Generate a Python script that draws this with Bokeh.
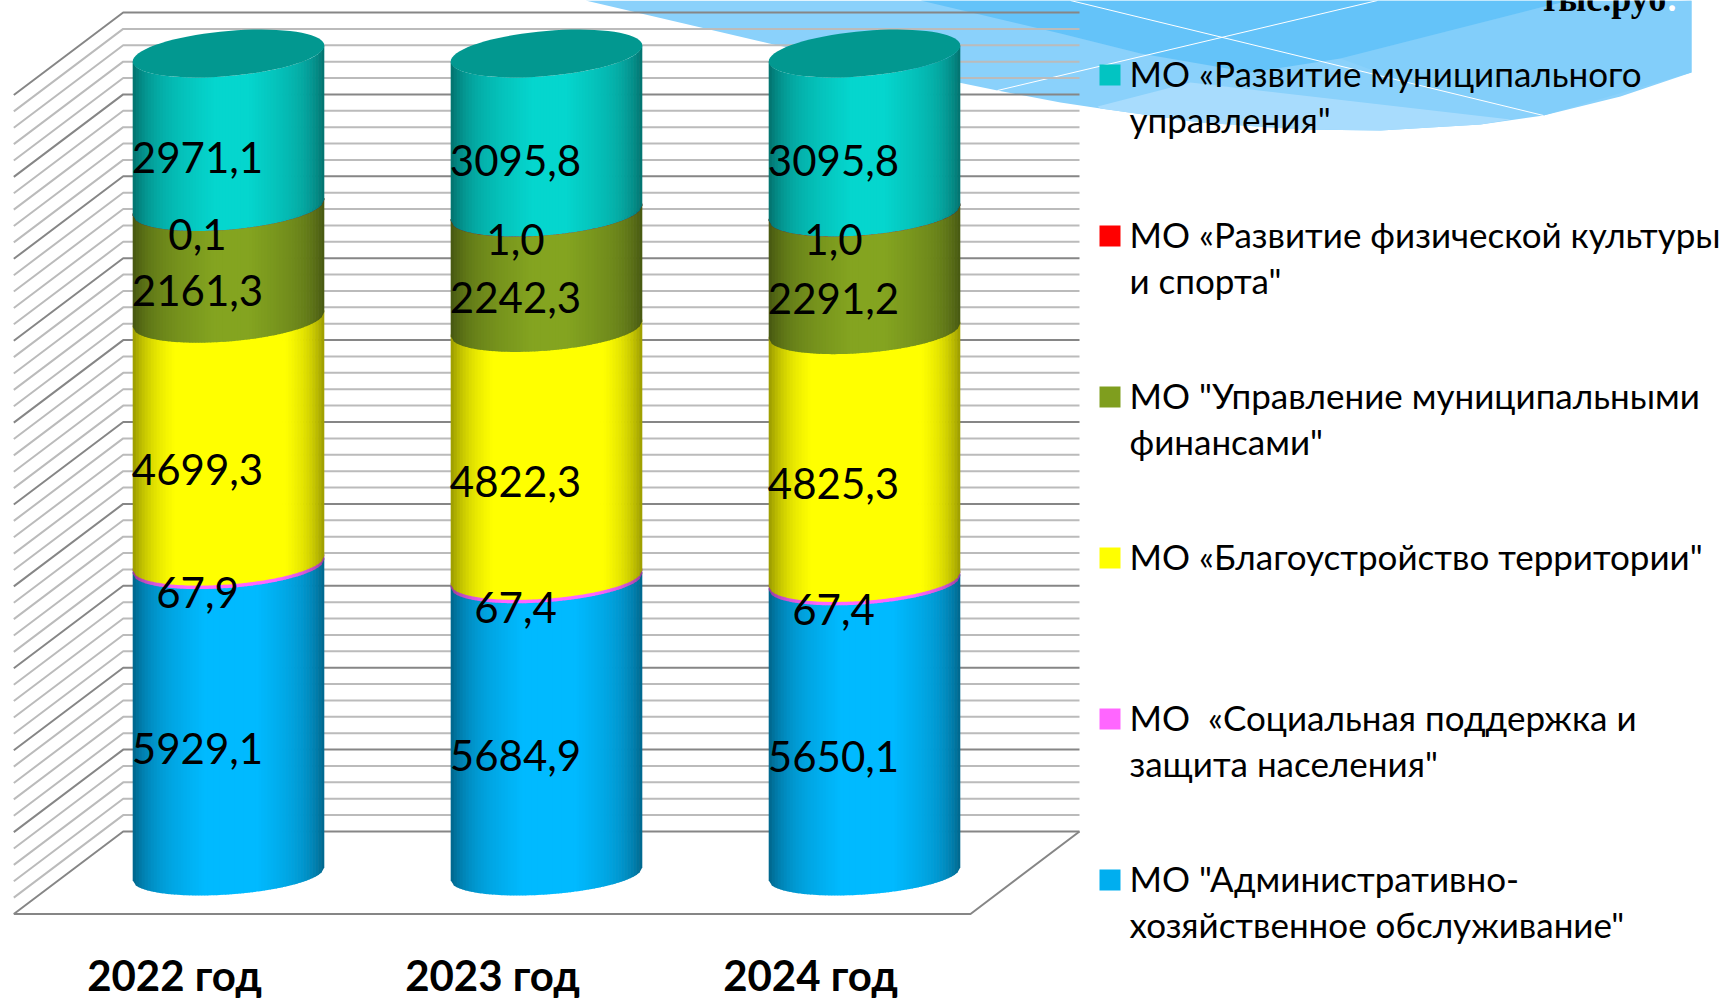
import math
from bokeh.core.properties import value
from bokeh.embed import file_html
from bokeh.models import Range1d
from bokeh.plotting import figure
from bokeh.resources import INLINE

# ---- data -------------------------------------------------------------
categories = ["2022 год", "2023 год", "2024 год"]
admin = [5929.1, 5684.9, 5650.1]
social = [67.9, 67.4, 67.4]
improve = [4699.3, 4822.3, 4825.3]
finance = [2161.3, 2242.3, 2291.2]
sport = [0.1, 1.0, 1.0]
municipal = [2971.1, 3095.8, 3095.8]
series = [admin, social, improve, finance, sport, municipal]
labels = [
    ["5929,1", "5684,9", "5650,1"],
    ["67,9", "67,4", "67,4"],
    ["4699,3", "4822,3", "4825,3"],
    ["2161,3", "2242,3", "2291,2"],
    ["0,1", "1,0", "1,0"],
    ["2971,1", "3095,8", "3095,8"],
]
legend_names = [
    ["МО «Развитие муниципального", "управления\""],
    ["МО «Развитие физической культуры", "и спорта\""],
    ["МО \"Управление муниципальными", "финансами\""],
    ["МО «Благоустройство территории\""],
    ["МО\u00a0\u00a0«Социальная поддержка и", "защита населения\""],
    ["МО \"Административно-", "хозяйственное обслуживание\""],
]
gridline_percents = list(range(0, 101, 2))

# ---- styles -----------------------------------------------------------
side_colors = [(0, 186, 255), (255, 102, 255), (255, 255, 0), (132, 164, 32), (255, 0, 0), (5, 214, 206)]
side_gain = [1.08, 1.15, 1.2, 1.05, 1.0, 1.05]
label_dy = [21, 21, 21, 19, 19, 19]
legend_colors = ["#02C4C2", "#FF0000", "#7F9E1E", "#FFFF00", "#FF66FF", "#00AEEF"]
cap_color = "#029890"
FONT = "Lato"

W, H = 1726, 999
PX_PER_PCT = 8.19
CX0, STEP = 228.0, 318.0
A = 95.8 / STEP
BASE = 880.0

p = figure(width=W, height=H, output_backend="svg", toolbar_location=None,
           x_axis_location=None, y_axis_location=None, min_border=0,
           x_range=Range1d((0 - CX0) / STEP, (W - CX0) / STEP),
           y_range=Range1d((BASE - H) / PX_PER_PCT, BASE / PX_PER_PCT))
p.styles = {"position": "absolute", "left": "0px", "top": "0px"}
p.grid.visible = False
p.outline_line_color = None
p.background_fill_color = "#FFFFFF"
p.border_fill_color = "#FFFFFF"
p.extra_x_ranges["px"] = Range1d(0, W)
p.extra_y_ranges["px"] = Range1d(H, 0)
PX = dict(x_range_name="px", y_range_name="px")

# ---- decorative band ---------------------------------------------------
band_layers = [
    ("#8AD1FB", [585, 773, 997, 1060, 1100, 1200, 1300, 1380, 1480, 1543, 1620, 1691, 1691],
                [0, 44, 90, 102, 108, 122, 129, 130, 124, 115, 96, 72, 0]),
    ("#A8DCFD", [1097, 1190, 1510, 1480, 1380, 1300, 1200, 1100],
                [106, 82, 119, 124, 130, 129, 122, 108]),
    ("#82CEFA", [1340, 1540, 1691, 1691, 1543, 1400],
                [58, 7, 0, 72, 115, 80]),
    ("#64C3F9", [920, 1060, 1140, 1250, 1340, 1540, 1570],
                [0, 33, 53, 72, 58, 7, 0]),
]
for col, bx, by in band_layers:
    p.patch(bx, by, fill_color=col, line_color=None, **PX)
p.line([1070, 1543], [0, 115], line_color="#FFFFFF", line_width=1, **PX)
p.line([1377, 997], [0, 90], line_color="#FFFFFF", line_width=1, **PX)

# ---- 3D walls and floor ------------------------------------------------
BACK0, FRONT0 = 831.0, 913.5
LEFT_F, LEFT_B, RIGHT_F, RIGHT_B = 13.3, 122.7, 970.0, 1079.0
for pct in gridline_percents:
    y_back = BACK0 - PX_PER_PCT * pct
    y_front = FRONT0 - PX_PER_PCT * pct
    major = pct % 10 == 0
    p.line([LEFT_F, LEFT_B, RIGHT_B], [y_front, y_back, y_back],
           line_color="#868686" if major else "#BBBBBB", line_width=2, **PX)
p.line([LEFT_F, RIGHT_F, RIGHT_B], [FRONT0, FRONT0, BACK0], line_color="#868686", line_width=2, **PX)

# ---- cylinders --------------------------------------------------------
def shade(col, u, gain):
    d = (0.52 - u) / 0.52 if u < 0.52 else (u - 0.52) / 0.48
    f = min(1.0, gain * (1 - 0.5 * (0.55 * d + 0.45 * d ** 6)))
    return "#%02X%02X%02X" % tuple(int(round(c * f)) for c in col)

def kb(pct):
    return (6.5 + 1.5 * pct / 100) / PX_PER_PCT, (20.5 + 2.1 * pct / 100) / PX_PER_PCT

def yy(pct, n, k, b):
    # y on the visible (front) half of a tilted ellipse, in percent units
    return pct + k * (1 + n) - b * math.sqrt(max(0.0, 1 - n * n))

N = 64
tx, ty, tt, tdy = [], [], [], []
cat_x = []
for c in range(3):
    cx = float(c)
    cat_x.append(cx)
    total = sum(s[c] for s in series)
    cum = 0.0
    for si, s in enumerate(series):
        lo = 100 * cum / total
        cum += s[c]
        hi = 100 * cum / total
        hi_draw = hi if si == 5 else min(100, hi + 0.25)
        xs, ys, cols = [], [], []
        k_lo, b_lo = kb(lo)
        k_hi, b_hi = kb(hi_draw)
        for j in range(N):
            u0, u1 = j / N, (j + 1) / N
            u1b = min(1.0, u1 + 0.2 / N)
            n0, n1 = 2 * u0 - 1, 2 * u1b - 1
            x0, x1 = cx + A * n0, cx + A * n1
            xs.append([x0, x1, x1, x0])
            ys.append([yy(lo, n0, k_lo, b_lo), yy(lo, n1, k_lo, b_lo),
                       yy(hi_draw, n1, k_hi, b_hi), yy(hi_draw, n0, k_hi, b_hi)])
            cols.append(shade(side_colors[si], (u0 + u1) / 2, side_gain[si]))
        p.patches(xs, ys, fill_color=cols, line_color=None)
        tx.append(cx)
        ty.append((lo + hi) / 2)
        tt.append(labels[si][c])
        tdy.append(label_dy[si])
    # top cap
    k, b = kb(100)
    cap_x, cap_y = [], []
    for i in range(72):
        t = 2 * math.pi * i / 72
        cap_x.append(cx + A * math.cos(t))
        cap_y.append(100 + k + k * math.cos(t) - b * math.sin(t))
    p.patch(cap_x, cap_y, fill_color=cap_color, line_color=None)

p.text(tx, ty, text=tt, x_offset=-31, y_offset=tdy, text_align="center", text_baseline="middle",
       text_font=value(FONT), text_font_size="42px", text_color="#000000")
p.text(cat_x, [-11.5] * 3, text=categories, x_offset=-54, text_align="center", text_baseline="middle",
       text_font=value(FONT), text_font_style="bold", text_font_size="42px", text_color="#000000")

# ---- legend -----------------------------------------------------------
L_X0, L_X1, L_TXT, L_Y0, L_STEP, L_LH = 1099.0, 1120.0, 1129.0, 74.5, 161.0, 46.0
for i, lines in enumerate(legend_names):
    yc = L_Y0 + i * L_STEP
    p.quad(left=L_X0, right=L_X1, top=yc - 10.5, bottom=yc + 10.5,
           fill_color=legend_colors[i], line_color=None, **PX)
    for j, line in enumerate(lines):
        p.text([L_TXT], [yc - 2 + j * L_LH], text=[line], text_align="left", text_baseline="middle",
               text_font=value(FONT), text_font_size="35px", text_color="#000000", **PX)

p.text([1540], [-2], text=["тыс.руб"], text_align="left", text_baseline="middle",
       text_font=value("Liberation Serif"), text_font_style="bold", text_font_size="36px",
       text_color="#000000", **PX)
p.text([1667], [-2], text=["."], text_align="left", text_baseline="middle",
       text_font=value("Liberation Serif"), text_font_style="bold", text_font_size="36px",
       text_color="#FFFFFF", **PX)

open("out.html", "w").write(file_html(p, INLINE))
